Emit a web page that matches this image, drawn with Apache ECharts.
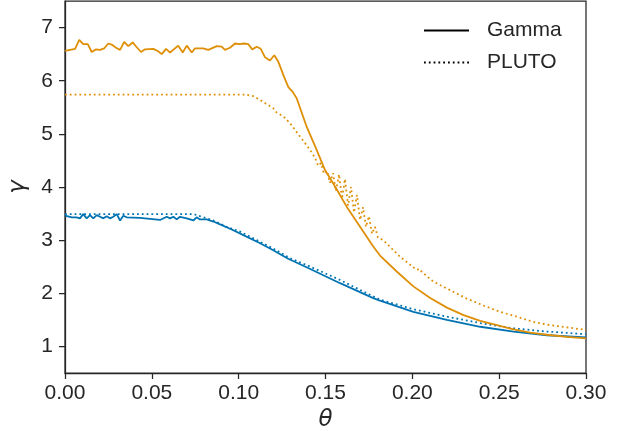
<!DOCTYPE html>
<html>
<head>
<meta charset="utf-8">
<script src="https://cdn.jsdelivr.net/npm/echarts@6/dist/echarts.min.js"></script>
<style>html,body{margin:0;padding:0;background:#fff;}#c{width:626px;height:431px;}</style>
</head>
<body>
<div id="c"></div>
<script>
// ---- data (theta, gamma) ----
var xTicks = [0, 0.05, 0.10, 0.15, 0.20, 0.25, 0.30];
var yTicks = [1, 2, 3, 4, 5, 6, 7];
var legendNames = ['Gamma', 'PLUTO'];

var blueGamma = [
  [0.000,3.46],[0.0039,3.43],[0.0067,3.43],[0.0086,3.41],[0.0105,3.49],[0.0125,3.41],[0.0144,3.47],[0.0163,3.41],
  [0.0183,3.47],[0.0202,3.44],[0.0221,3.41],[0.0240,3.45],[0.0259,3.41],[0.0278,3.44],[0.0298,3.49],[0.0317,3.37],
  [0.0336,3.46],[0.0355,3.43],[0.0432,3.42],[0.0489,3.40],[0.0547,3.38],[0.0586,3.44],[0.0605,3.41],[0.0624,3.44],
  [0.0643,3.39],[0.0662,3.44],[0.0701,3.41],[0.0739,3.37],[0.0758,3.43],[0.0777,3.39],[0.0816,3.39],[0.0854,3.35],
  [0.0883,3.31],[0.0960,3.20],[0.1036,3.08],[0.1118,2.95],[0.1194,2.82],[0.1285,2.65],[0.1391,2.49],[0.1584,2.19],
  [0.1775,1.91],[0.1814,1.86],[0.2006,1.65],[0.2199,1.50],[0.2391,1.37],[0.2583,1.28],[0.2775,1.21],[0.3000,1.17]
];
var bluePluto = [
  [0.000,3.49],[0.0400,3.49],[0.0740,3.49],[0.0777,3.45],[0.0854,3.37],[0.0931,3.25],[0.1008,3.16],[0.1104,3.00],
  [0.1200,2.84],[0.1296,2.66],[0.1392,2.53],[0.1584,2.25],[0.1738,2.00],[0.1814,1.88],[0.2006,1.70],[0.2199,1.56],
  [0.2391,1.44],[0.2583,1.34],[0.2775,1.28],[0.3000,1.23]
];
var orangeGamma = [
  [0.000,6.56],[0.0058,6.60],[0.0082,6.77],[0.0105,6.69],[0.0131,6.69],[0.0154,6.54],[0.0179,6.59],[0.0202,6.58],
  [0.0226,6.61],[0.0249,6.70],[0.0269,6.68],[0.0294,6.62],[0.0317,6.58],[0.0341,6.73],[0.0364,6.65],[0.0390,6.72],
  [0.0413,6.63],[0.0438,6.54],[0.0461,6.59],[0.0508,6.60],[0.0534,6.56],[0.0557,6.50],[0.0582,6.60],[0.0605,6.53],
  [0.0652,6.66],[0.0678,6.53],[0.0701,6.66],[0.0730,6.53],[0.0749,6.61],[0.0796,6.61],[0.0825,6.58],[0.0874,6.65],
  [0.0902,6.64],[0.0921,6.58],[0.0950,6.62],[0.0979,6.70],[0.1004,6.69],[0.1031,6.70],[0.1055,6.69],[0.1078,6.59],
  [0.1104,6.64],[0.1127,6.60],[0.1152,6.44],[0.1180,6.38],[0.1205,6.48],[0.1228,6.36],[0.1257,6.11],[0.1286,5.88],
  [0.1311,5.79],[0.1334,5.67],[0.1392,5.13],[0.1449,4.70],[0.1497,4.32],[0.1555,4.01],[0.1622,3.63],[0.1699,3.25],
  [0.1775,2.88],[0.1814,2.71],[0.1910,2.41],[0.2006,2.13],[0.2103,1.91],[0.2199,1.73],[0.2295,1.59],[0.2391,1.48],
  [0.2487,1.40],[0.2583,1.32],[0.2679,1.26],[0.2775,1.22],[0.2890,1.18],[0.3000,1.15]
];
var orangePluto = [
  [0.000,5.74],[0.0500,5.74],[0.1037,5.74],[0.1083,5.71],[0.1123,5.64],[0.1200,5.48],[0.1219,5.40],[0.1257,5.33],
  [0.1296,5.20],[0.1353,4.95],[0.1411,4.70],[0.1440,4.55],[0.1457,4.40],[0.1474,4.45],[0.1491,4.25],[0.1509,4.30],
  [0.1526,4.08],[0.1543,4.26],[0.1560,3.92],[0.1578,4.24],[0.1595,3.78],[0.1612,4.15],[0.1630,3.65],[0.1647,4.00],
  [0.1664,3.52],[0.1681,3.85],[0.1699,3.38],[0.1716,3.62],[0.1733,3.25],[0.1750,3.45],[0.1768,3.12],[0.1785,3.25],
  [0.1802,3.05],[0.1833,3.00],[0.1910,2.75],[0.1929,2.69],[0.2025,2.44],[0.2040,2.46],[0.2055,2.40],[0.2121,2.22],
  [0.2217,2.06],[0.2313,1.90],[0.2410,1.77],[0.2506,1.65],[0.2602,1.56],[0.2698,1.46],[0.2794,1.40],[0.2890,1.36],
  [0.3000,1.31]
];

var BLUE = '#0173b2', ORANGE = '#de8f05', INK = '#262626';
var DOT = [1.8, 3];
var FONT = '"Liberation Sans", Arial, sans-serif';

function lineSeries(name, data, color, dotted) {
  return {
    name: name, type: 'line', data: data, symbol: 'none', showSymbol: false, smooth: false,
    lineStyle: {color: color, width: 1.8, type: dotted ? DOT : 'solid'},
    itemStyle: {color: color}, silent: true, z: 3
  };
}

var chart = echarts.init(document.getElementById('c'), null, {renderer: 'canvas'});
chart.setOption({
  animation: false,
  backgroundColor: '#ffffff',
  grid: {left: 65, right: 40, top: 1, bottom: 58, outerBoundsMode: 'none', containLabel: false,
         show: true, borderColor: INK, borderWidth: 1.25, backgroundColor: 'transparent'},
  legend: {
    data: legendNames, orient: 'vertical', left: 423, top: 20, padding: 0,
    itemWidth: 45, itemHeight: 14, itemGap: 11,
    itemStyle: {opacity: 0},
    textStyle: {fontFamily: FONT, fontSize: 21, color: INK, padding: [0, 0, 0, 13]}
  },
  xAxis: {
    type: 'value', min: 0, max: 0.3, interval: 0.05,
    name: 'θ', nameLocation: 'middle', nameGap: 36,
    nameTextStyle: {fontFamily: '"DejaVu Sans", sans-serif', fontStyle: 'italic', fontSize: 23, color: INK},
    axisLine: {show: true, onZero: false, lineStyle: {color: INK, width: 1.25}},
    axisTick: {show: true, inside: false, length: 6, lineStyle: {color: INK, width: 1.25}},
    axisLabel: {fontFamily: FONT, fontSize: 21, color: INK, margin: 10, formatter: function (v) { return v.toFixed(2); }},
    splitLine: {show: false}
  },
  yAxis: {
    type: 'value', min: 0.5, max: 7.5,
    name: 'γ', nameLocation: 'middle', nameGap: 35, nameRotate: 90,
    nameTextStyle: {fontFamily: '"DejaVu Sans", sans-serif', fontStyle: 'italic', fontSize: 23, color: INK},
    axisLine: {show: true, onZero: false, lineStyle: {color: INK, width: 1.25}},
    axisTick: {show: true, inside: false, length: 6, customValues: yTicks, lineStyle: {color: INK, width: 1.25}},
    axisLabel: {fontFamily: FONT, fontSize: 21, color: INK, margin: 12, customValues: yTicks},
    splitLine: {show: false}
  },
  series: [
    lineSeries('Gamma', [], '#000000', false),
    lineSeries('PLUTO', [], '#000000', true),
    lineSeries('blueGamma', blueGamma, BLUE, false),
    lineSeries('bluePluto', bluePluto, BLUE, true),
    lineSeries('orangeGamma', orangeGamma, ORANGE, false),
    lineSeries('orangePluto', orangePluto, ORANGE, true)
  ]
});
</script>
</body>
</html>
